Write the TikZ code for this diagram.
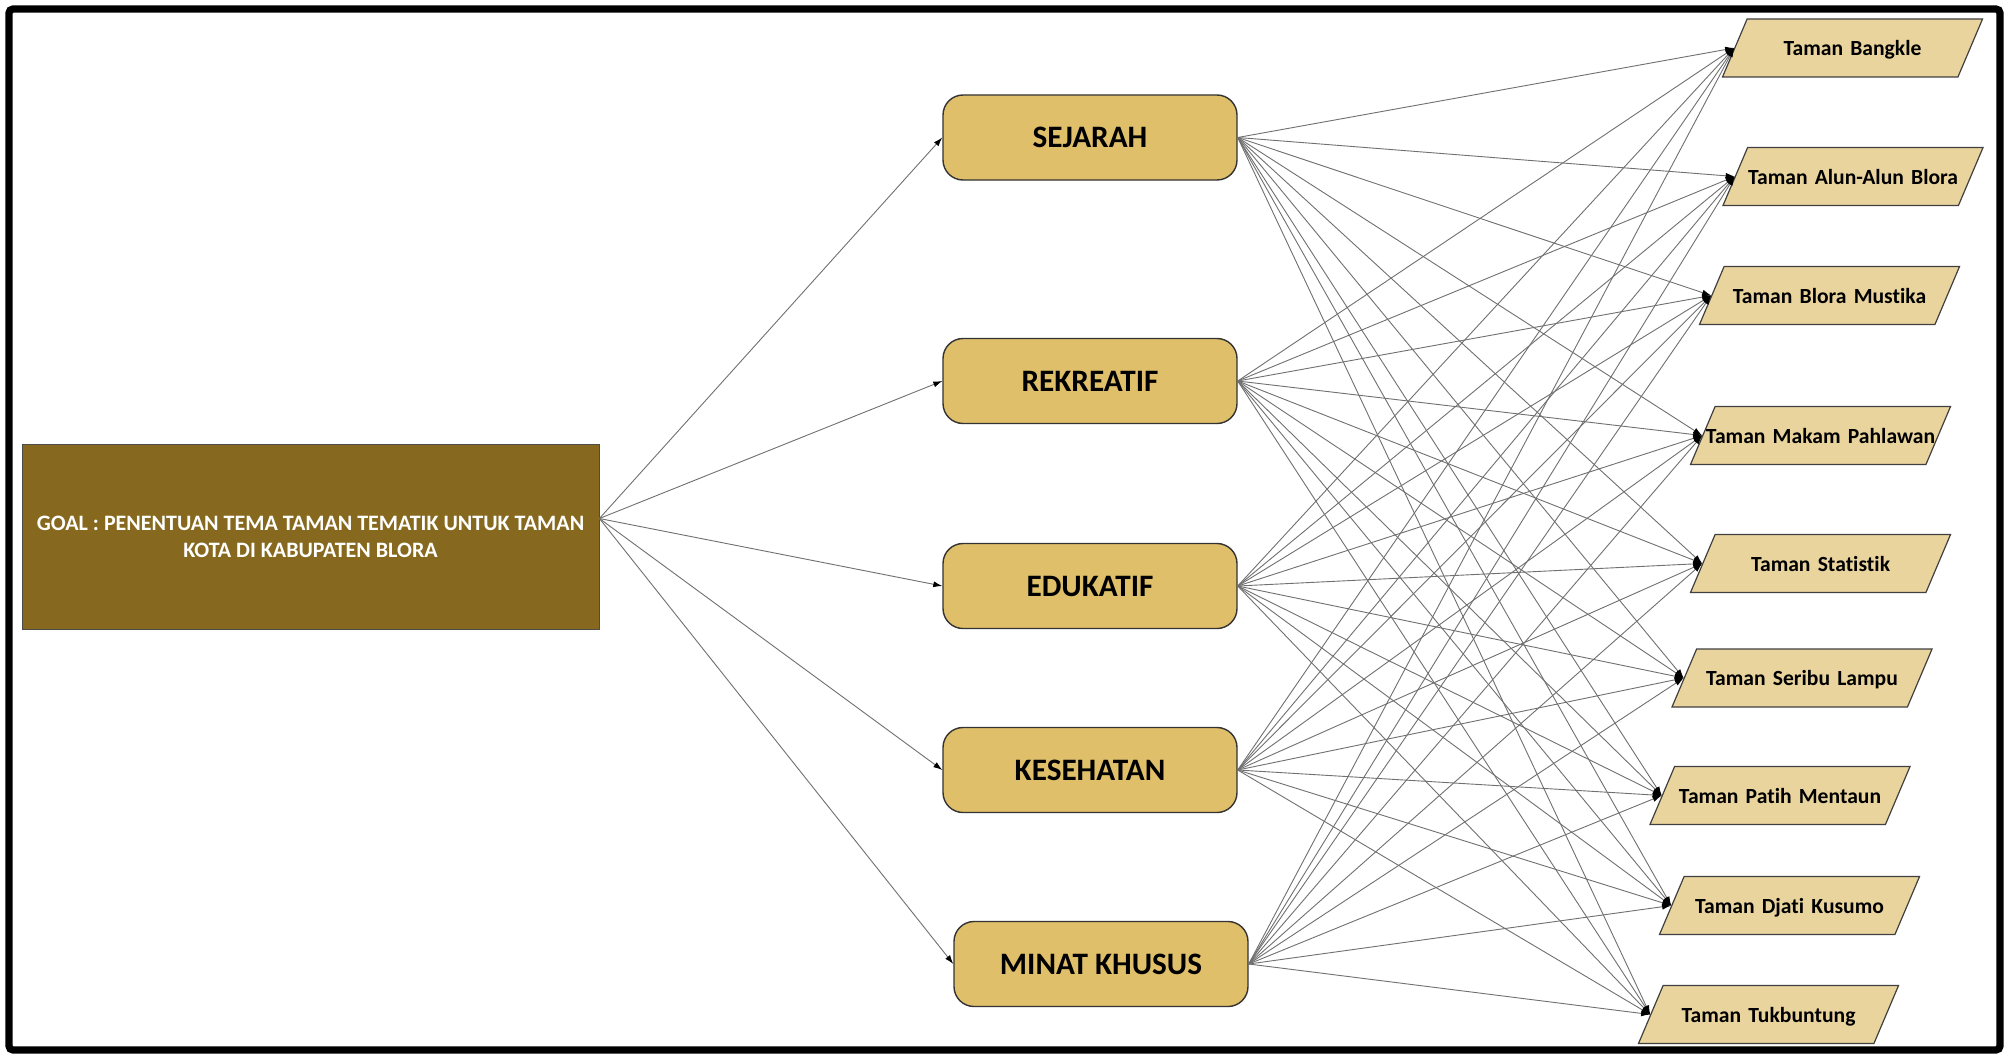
\documentclass[tikz,border=0pt]{standalone}
\usepackage{fontspec}
\setmainfont{Carlito}[Ligatures=NoCommon]
\usetikzlibrary{shapes.geometric,arrows.meta}
\definecolor{goalc}{HTML}{86691E}
\definecolor{critc}{HTML}{E0BF6A}
\definecolor{altc}{HTML}{EAD49E}
\definecolor{linec}{HTML}{707070}
\newcommand\altlbl[1]{\makebox[0pt]{#1}}
\begin{document}
\begin{tikzpicture}[x=0.5pt,y=-0.5pt,
 goalbox/.style={draw=black!70, fill=goalc, minimum width=288.5pt, minimum height=92.5pt, text=white,
   font=\bfseries\fontsize{11}{13.6}\selectfont, align=center, inner sep=0pt},
 critbox/.style={draw=black!80, line width=0.7pt, fill=critc, rounded corners=10pt, minimum width=147pt,
   minimum height=42.5pt, font=\bfseries\fontsize{15.6}{18}\selectfont, inner sep=0pt},
 altbox/.style={trapezium, trapezium left angle=67, trapezium right angle=113,
   draw=black!75, line width=0.6pt, fill=altc, inner sep=0pt, text width=105.4pt,
   text height=18.3pt, text depth=10.7pt, align=center,
   font=\bfseries\fontsize{10.8}{13}\selectfont},
 conn/.style={draw=linec, line width=0.45pt, -{Latex[length=4.5pt,width=3pt,black]}}
]
\useasboundingbox (0,0) rectangle (2006,1054);
\fill[white] (0,0) rectangle (2006,1054);
\draw[line width=3.6pt, rounded corners=2pt] (9,9) rectangle (2000,1050);

\node[goalbox] (goal) at (310.5,536.5) {GOAL : PENENTUAN TEMA TAMAN TEMATIK UNTUK TAMAN\\KOTA DI KABUPATEN BLORA};

\node[critbox] (c1) at (1090,137.5) {SEJARAH};
\node[critbox] (c2) at (1090,381) {REKREATIF};
\node[critbox] (c3) at (1090,586) {EDUKATIF};
\node[critbox] (c4) at (1090,770) {KESEHATAN};
\node[critbox] (c5) at (1101,964) {MINAT KHUSUS};

\node[altbox] (a1) at (1852.5,48) {\altlbl{Taman Bangkle}};
\node[altbox] (a2) at (1853,176.5) {\altlbl{Taman Alun-Alun Blora}};
\node[altbox] (a3) at (1829.5,295.5) {\altlbl{Taman Blora Mustika}};
\node[altbox] (a4) at (1820.5,435.5) {\altlbl{Taman Makam Pahlawan}};
\node[altbox] (a5) at (1820.5,563.5) {\altlbl{Taman Statistik}};
\node[altbox] (a6) at (1802,678) {\altlbl{Taman Seribu Lampu}};
\node[altbox] (a7) at (1780,795.5) {\altlbl{Taman Patih Mentaun}};
\node[altbox] (a8) at (1789.5,905.5) {\altlbl{Taman Djati Kusumo}};
\node[altbox] (a9) at (1768.5,1014.5) {\altlbl{Taman Tukbuntung}};

\foreach \c in {c1,c2,c3,c4,c5}
  \draw[conn] ([yshift=9pt]goal.east) -- (\c.west);
\foreach \c in {c1,c2,c3,c4,c5}
  \foreach \a in {a1,a2,a3,a4,a5,a6,a7,a8,a9}
    \draw[conn] (\c.east) -- (\a.west);
\end{tikzpicture}
\end{document}
